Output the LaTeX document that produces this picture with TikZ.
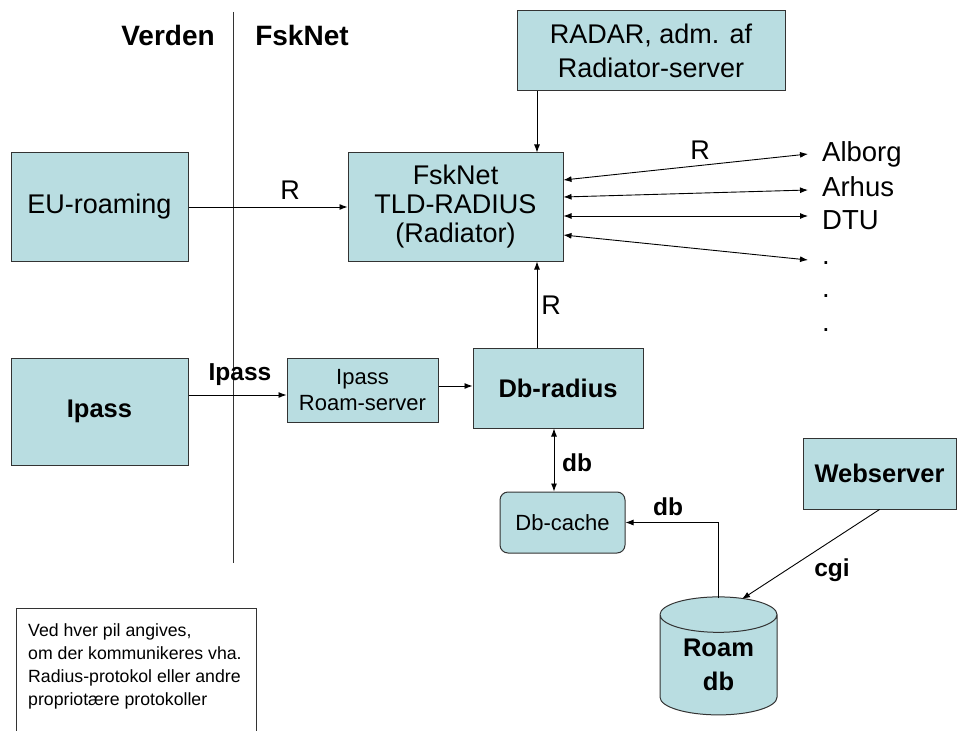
\documentclass[tikz,border=0pt]{standalone}
\usepackage{fontspec}
\setmainfont{Liberation Sans}
\usetikzlibrary{arrows.meta,shapes.geometric}
\definecolor{boxfill}{HTML}{B9DDE1}
\definecolor{edge}{HTML}{333333}
\tikzset{
  box/.style={draw=edge, fill=boxfill, line width=1pt, inner sep=0pt, align=center,
    font=\fontsize{27}{29}\selectfont},
  boldbox/.style={box, font=\fontsize{25.5}{34}\bfseries},
  smallbox/.style={box, font=\fontsize{22}{26}\selectfont},
  conn/.style={draw=black, line width=0.9pt, -{Latex[length=8pt,width=6pt]}},
  dconn/.style={draw=black, line width=0.9pt, {Latex[length=8pt,width=6pt]}-{Latex[length=8pt,width=6pt]}},
  lbl/.style={font=\fontsize{27}{29}\selectfont, inner sep=0pt},
  blbl/.style={font=\fontsize{24.5}{28}\bfseries, inner sep=0pt},
  head/.style={font=\fontsize{28}{30}\bfseries, inner sep=0pt},
  site/.style={font=\fontsize{27.5}{30}\selectfont, inner sep=0pt, anchor=west},
}
\begin{document}
\begin{tikzpicture}[x=1pt,y=-1pt]
\useasboundingbox (0,0) rectangle (957,730);

% divider
\coordinate (vtop) at (233,12);
\coordinate (vbot) at (233,563);
\draw[edge, line width=1pt] (vtop) -- (vbot);
\node[head] (verden) at (168,35) {Verden};
\node[head] (fsknet) at (302,35) {FskNet};

% boxes
\node[box, minimum width=177, minimum height=108] (eu) at (99.5,207) {EU-roaming};
\node[box, minimum width=215, minimum height=108] (tld) at (455.5,207) {FskNet\\TLD-RADIUS\\(Radiator)};
\node[box, minimum width=268, minimum height=80, font=\fontsize{27}{34}\selectfont] (radar) at (651,51) {RADAR, adm. af\\Radiator-server};
\node[boldbox, minimum width=177, minimum height=107] (ipass) at (99.5,411.5) {Ipass};
\node[smallbox, minimum width=151, minimum height=64] (rs) at (362.5,390) {Ipass\\Roam-server};
\node[boldbox, minimum width=170, minimum height=80] (dbr) at (558,388) {Db-radius};
\node[smallbox, rounded corners=8pt, minimum width=125, minimum height=61] (dbc) at (562.5,522.5) {Db-cache};
\node[boldbox, minimum width=153, minimum height=71] (ws) at (879.5,473.5) {Webserver};
\node[boldbox, cylinder, shape border rotate=90, aspect=0.5, minimum width=117, minimum height=118] (roam) at (718.5,665) {Roam\\db};

% note
\node[draw=edge, line width=1pt, minimum width=240, minimum height=140, anchor=north west, inner sep=0pt] (note) at (16,608) {};
\node[anchor=north west, align=left, inner sep=0pt, font=\fontsize{17.7}{23.3}\selectfont] (notetext) at (28,623)
  {Ved hver pil angives,\\om der kommunikeres vha.\\Radius-protokol eller andre\\propriotære protokoller};

% columns / rows
\coordinate (colA) at (537,0);
\coordinate (colB) at (554,0);
\coordinate (rowA) at (0,395);
\coordinate (rowB) at (0,386);

% connectors
\draw[conn] (eu.east) -- (tld.west);
\node[lbl] (r1) at (290,190) {R};
\draw[conn] (radar.south -| colA) -- (tld.north -| colA);
\draw[conn] (dbr.north -| colA) -- (tld.south -| colA);
\node[lbl] (r2) at (551,305) {R};
\draw[conn] (ipass.east |- rowA) -- (rs.west |- rowA);
\node[blbl] (ipl) at (240,375) {Ipass};
\draw[conn] (rs.east |- rowB) -- (dbr.west |- rowB);
\draw[dconn] (dbr.south -| colB) -- (dbc.north -| colB);
\node[blbl] (db1) at (577,463) {db};
\coordinate (rtop) at (718,598);
\draw[conn] (rtop) |- (dbc.east);
\node[blbl] (db2) at (668,507) {db};
\coordinate (rtop2) at (742,599);
\draw[conn] (ws.south) -- (rtop2);
\node[blbl] (cgi) at (832,570) {cgi};

% outgoing sites
\node[site] (alb) at (822,154) {Alborg};
\node[site] (arh) at (822,187) {Arhus};
\node[site] (dtu) at (822,220) {DTU};
\node[site] (d1) at (822,263) {.};
\node[site] (d2) at (822,296) {.};
\node[site] (d3) at (822,330) {.};
\coordinate (e1) at (808,154);
\coordinate (e2) at (808,190);
\coordinate (e3) at (808,216);
\coordinate (e4) at (808,260);
\draw[dconn] ([yshift=27pt]tld.east) -- (e1);
\draw[dconn] ([yshift=10pt]tld.east) -- (e2);
\draw[dconn] ([yshift=-9pt]tld.east) -- (e3);
\draw[dconn] ([yshift=-28pt]tld.east) -- (e4);
\node[lbl] (r3) at (700,150) {R};
\end{tikzpicture}
\end{document}
